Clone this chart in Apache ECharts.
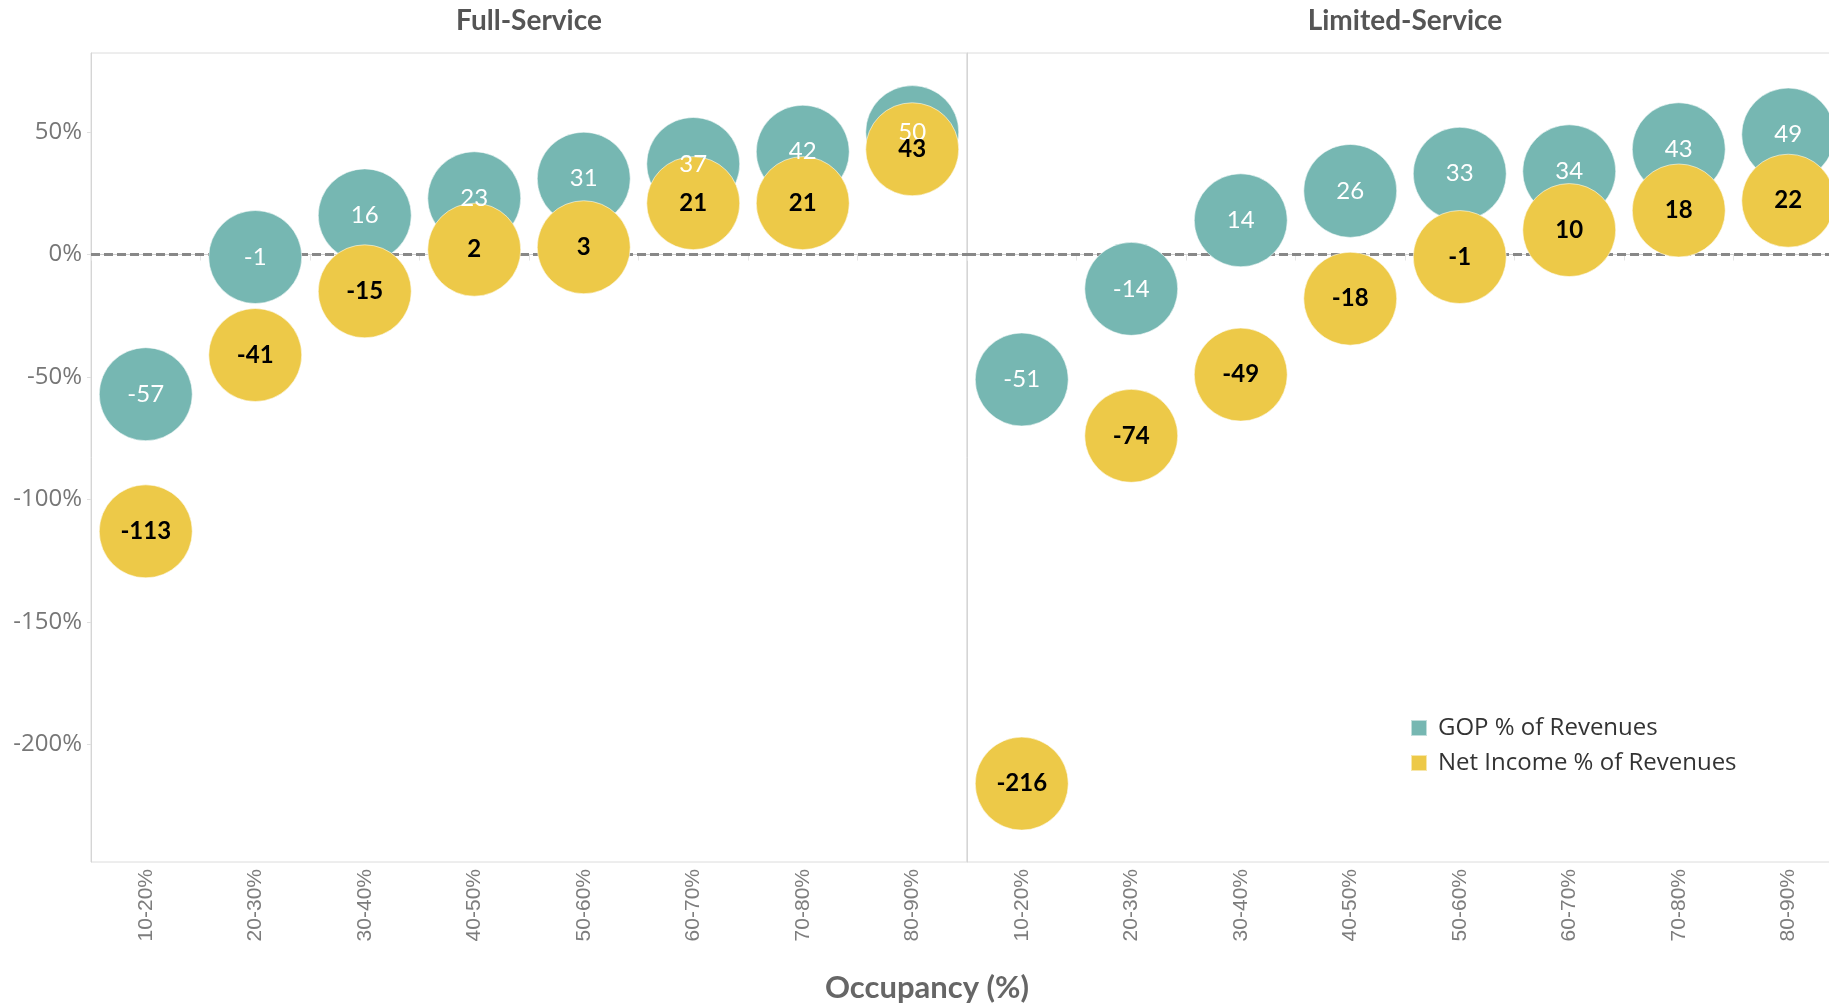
<!DOCTYPE html>
<html>
<head>
<meta charset="utf-8">
<script src="https://cdn.jsdelivr.net/npm/echarts@6/dist/echarts.min.js"></script>
<style>
html,body{margin:0;padding:0;background:#fff;overflow:hidden;width:1829px;height:1003px;}
#chart{width:1860px;height:1003px;}
</style>
</head>
<body>
<div id="chart"></div>
<script>
const categories = ['10-20%','20-30%','30-40%','40-50%','50-60%','60-70%','70-80%','80-90%'];
const panels = ['Full-Service','Limited-Service'];
const gopFull = [-57, -1, 16, 23, 31, 37, 42, 50];
const niFull = [-113, -41, -15, 2, 3, 21, 21, 43];
const gopLimited = [-51, -14, 14, 26, 33, 34, 43, 49];
const niLimited = [-216, -74, -49, -18, -1, 10, 18, 22];
const yTicks = [-200, -150, -100, -50, 0, 50];
const seriesNames = ['GOP % of Revenues', 'Net Income % of Revenues'];
const colors = ['#76b7b2', '#edc948'];

const chart = echarts.init(document.getElementById('chart'));

const yMin = -248, yMax = 82.3;
const gridTop = 53, gridH = 809, panelW = 876, gridLeft = 91;

function xAxisCfg(i){
  return {
    type:'category', gridIndex:i, data:categories, boundaryGap:true,
    axisLine:{show:true, lineStyle:{color:'#cfcfcf', width:1}},
    axisTick:{show:true, interval:0, length:6, lineStyle:{color:'#e6e6e6'}},
    axisLabel:{rotate:90, interval:0, margin:7, color:'#7d7d7d', fontFamily:'Liberation Sans', fontSize:21},
    splitLine:{show:false}
  };
}
function yAxisCfg(i){
  return {
    type:'value', gridIndex:i, min:yMin, max:yMax,
    axisLine:{show:true, lineStyle:{color:'#d5d5d5', width:1}},
    axisTick:{show:i===0, length:4, customValues:yTicks, lineStyle:{color:'#e0e0e0'}},
    axisLabel:{show:i===0, customValues:yTicks, margin:9, color:'#777', fontFamily:'Open Sans', fontSize:24,
      formatter:function(v){return v + '%';}},
    splitLine:{show:false}
  };
}

function scatter(name, data, idx, colorIdx, labelColor, bold){
  return {
    name:name, type:'scatter', xAxisIndex:idx, yAxisIndex:idx,
    data:data, symbolSize:93, clip:false, z:2,
    itemStyle:{color:colors[colorIdx], opacity:1, borderColor:'rgba(255,255,255,0.55)', borderWidth:1},
    label:{show:true, position:'inside', color:labelColor, fontFamily:'Lato', fontSize:24,
      fontWeight: bold ? 'bold' : 'normal', formatter:function(p){return p.value;}},
    emphasis:{disabled:true}
  };
}

function zeroLine(){
  return {
    silent:true, symbol:['none','none'], z:1,
    lineStyle:{color:'#888', type:[9,4], width:3},
    label:{show:false},
    emphasis:{disabled:true},
    data:[{yAxis:0}]
  };
}

const s = [
  scatter(seriesNames[0], gopFull, 0, 0, '#ffffff', false),
  scatter(seriesNames[1], niFull, 0, 1, '#000000', true),
  scatter(seriesNames[0], gopLimited, 1, 0, '#ffffff', false),
  scatter(seriesNames[1], niLimited, 1, 1, '#000000', true)
];
s[0].markLine = zeroLine();
s[2].markLine = zeroLine();

const option = {
  backgroundColor:'#fff',
  animation:false,
  grid:[
    {left:gridLeft, top:gridTop, width:panelW, height:gridH, show:true, borderColor:'#dcdcdc', borderWidth:1},
    {left:gridLeft+panelW, top:gridTop, width:panelW, height:gridH, show:true, borderColor:'#dcdcdc', borderWidth:1}
  ],
  xAxis:[xAxisCfg(0), xAxisCfg(1)],
  yAxis:[yAxisCfg(0), yAxisCfg(1)],
  legend:{
    data:seriesNames, orient:'vertical', left:1410, top:715, padding:0,
    icon:'rect', itemWidth:16, itemHeight:16, itemGap:9,
    textStyle:{color:'#333', fontFamily:'Open Sans', fontSize:24, lineHeight:26, padding:[0,0,0,6]},
    selectedMode:false
  },
  graphic:[
    {type:'text', x:gridLeft+panelW/2, y:21, style:{text:panels[0], align:'center', verticalAlign:'middle',
      fill:'#555', font:'bold 28px Lato'}},
    {type:'text', x:gridLeft+panelW*1.5, y:21, style:{text:panels[1], align:'center', verticalAlign:'middle',
      fill:'#555', font:'bold 28px Lato'}},
    {type:'text', x:927, y:988, style:{text:'Occupancy (%)', align:'center', verticalAlign:'middle',
      fill:'#666', font:'bold 31px Lato'}}
  ],
  series:s
};
chart.setOption(option);
</script>
</body>
</html>
